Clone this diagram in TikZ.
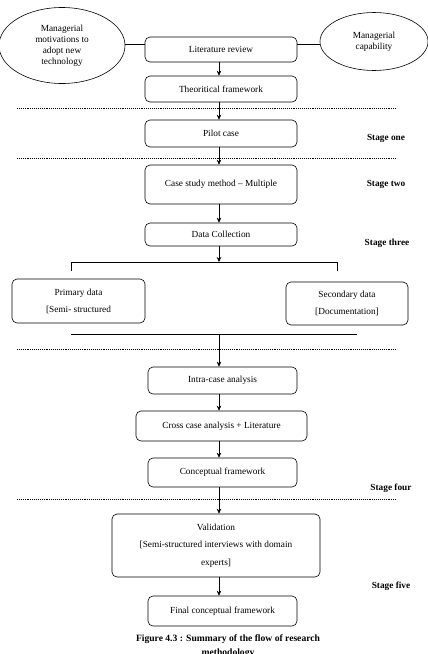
\documentclass[tikz,border=0pt]{standalone}
\usepackage{fontspec}
\setmainfont{Liberation Serif}
\usetikzlibrary{arrows.meta,shapes.geometric}
\begin{document}
\begin{tikzpicture}[x=1pt, y=-1pt, line width=0.6pt,
   font=\fontsize{9.3}{11}\selectfont,
   stagebox/.style={draw, rounded corners=5pt, align=center, inner sep=2pt},
   bubble/.style={draw, ellipse, align=center, inner sep=0pt},
   stagelabel/.style={font=\fontsize{9.3}{11}\selectfont\bfseries},
   flow/.style={-{Stealth[length=5pt, width=4.5pt]}},
   dotline/.style={densely dotted, line width=0.9pt}]
   \useasboundingbox (0,0) rectangle (428,654);

   % Inputs and first steps
   \node[bubble, minimum width=126pt, minimum height=76pt] (motiv) at (62,45.5)
      {Managerial\\motivations to\\adopt new\\technology};
   \node[bubble, minimum width=108pt, minimum height=58pt] (capab) at (374,41.5)
      {Managerial\\capability};
   \node[stagebox, minimum width=152pt, minimum height=25pt] (lit) at (221,49.5) {Literature review};
   \node[stagebox, minimum width=152pt, minimum height=26pt] (theo) at (221,89) {Theoritical framework};
   \draw (motiv.east |- 0,44) -- (lit.west |- 0,44);
   \draw (capab.west |- 0,44) -- (lit.east |- 0,44);

   % Stage one and two
   \node[stagebox, minimum width=152pt, minimum height=27pt] (pilot) at (221,133.5) {Pilot case};
   \node[stagebox, minimum width=152pt, minimum height=39pt] (case) at (221,184.5) {Case study method -- Multiple};
   \node[stagebox, minimum width=152pt, minimum height=23pt] (data) at (221,234.5) {Data Collection};

   % Stage three: data sources
   \coordinate (brA) at (71,271);
   \coordinate (brB) at (71,262);
   \coordinate (brC) at (337,262);
   \coordinate (brD) at (337,271);
   \draw (brA) -- (brB) -- (brC) -- (brD);
   \node[stagebox, font=\fontsize{9.3}{17}\selectfont, minimum width=133pt, minimum height=44pt]
      (prim) at (78.5,301) {Primary data\\\relax[Semi- structured};
   \node[stagebox, font=\fontsize{9.3}{17}\selectfont, minimum width=122pt, minimum height=43pt]
      (secd) at (347,303.5) {Secondary data\\\relax[Documentation]};
   \coordinate (joinL) at (71,334);
   \coordinate (joinR) at (357,334);
   \coordinate (joinM) at (220,334);
   \draw (joinL) -- (joinR);

   % Analysis
   \node[stagebox, minimum width=149pt, minimum height=27pt] (intra) at (222.5,380.5) {Intra-case analysis};
   \node[stagebox, minimum width=171pt, minimum height=30pt] (cross) at (221.5,426) {Cross case analysis + Literature};
   \node[stagebox, minimum width=149pt, minimum height=29pt] (concept) at (222.5,472.5) {Conceptual framework};

   % Stage five
   \node[stagebox, font=\fontsize{9.3}{17.5}\selectfont, minimum width=208pt, minimum height=63pt]
      (valid) at (216,545.5) {Validation\\\relax[Semi-structured interviews with domain\\experts]};
   \node[stagebox, minimum width=149pt, minimum height=30pt] (final) at (222.5,611) {Final conceptual framework};

   % Flow
   \draw[flow] (lit.south -| 219,0) -- (theo.north -| 219,0);
   \draw[flow] (theo.south -| 219,0) -- (pilot.north -| 219,0);
   \draw[flow] (pilot.south -| 219,0) -- (case.north -| 219,0);
   \draw[flow] (case.south -| 219,0) -- (data.north -| 219,0);
   \draw[flow] (data.south -| 219,0) -- (brB -| 219,0);
   \draw[flow] (joinM -| 219,0) -- (intra.north -| 219,0);
   \draw[flow] (intra.south -| 219,0) -- (cross.north -| 219,0);
   \draw[flow] (cross.south -| 219,0) -- (concept.north -| 219,0);
   \draw[flow] (concept.south -| 219,0) -- (valid.north -| 219,0);
   \draw[flow] (valid.south -| 219,0) -- (final.north -| 219,0);

   % Stage separators
   \foreach \y in {108,158,349,499} {
      \draw[dotline] (17,\y) -- (397,\y);
   }
   \node[stagelabel] (sone) at (386,138) {Stage one};
   \node[stagelabel] (stwo) at (386,184) {Stage two};
   \node[stagelabel] (sthree) at (387,243) {Stage three};
   \node[stagelabel] (sfour) at (391,488) {Stage four};
   \node[stagelabel] (sfive) at (391,586) {Stage five};

   % Caption
   \node[font=\fontsize{9.6}{14.5}\selectfont\bfseries, align=center, anchor=north] (cap) at (228,631)
      {Figure 4.3 : Summary of the flow of research\\methodology};
\end{tikzpicture}
\end{document}
